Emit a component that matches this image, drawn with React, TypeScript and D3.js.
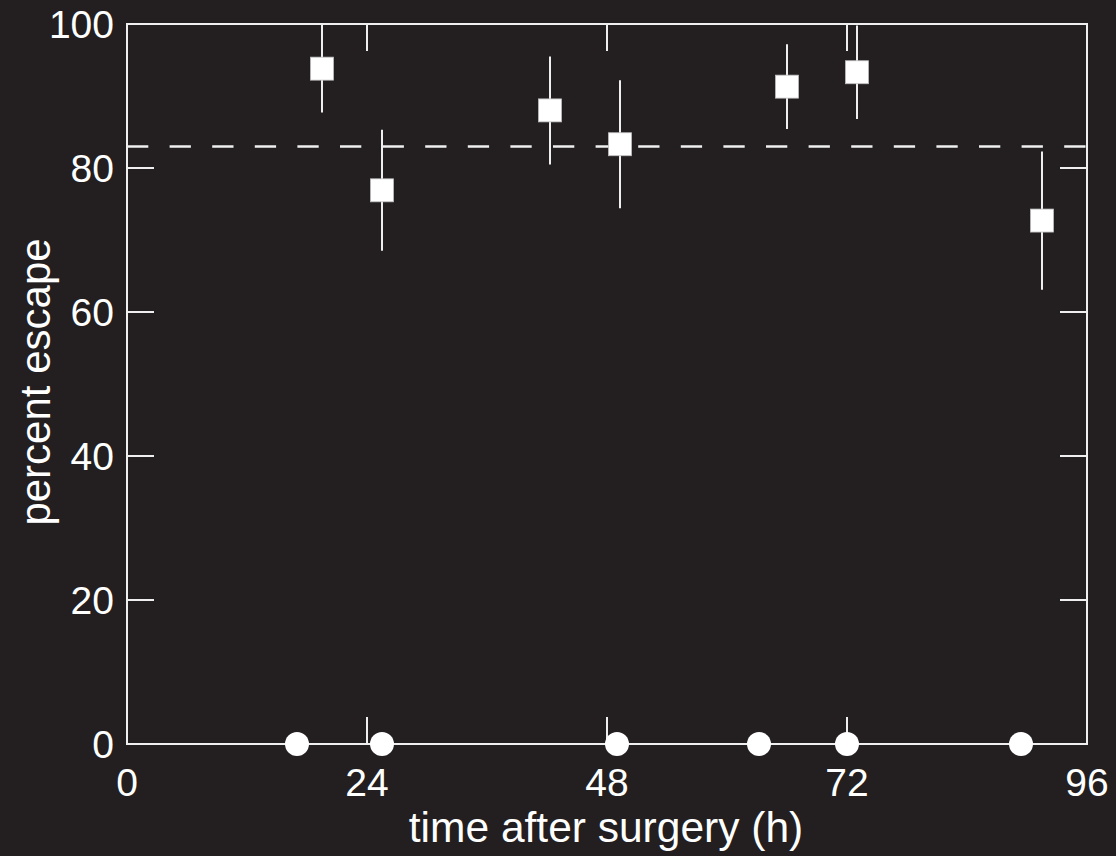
import * as d3 from 'd3';

// percent escape of operated animals (squares) with error bars
const escapeHours = [19.5, 25.5, 42.3, 49.3, 66, 73, 91.5];
const escapeValues = [93.8, 76.9, 88.0, 83.3, 91.3, 93.3, 72.7];
const escapeErrors = [6.1, 8.4, 7.5, 8.9, 5.9, 6.5, 9.6];

// control animals, all at zero
const controlHours = [17, 25.5, 49, 63.2, 72, 89.4];
const controlValues = [0, 0, 0, 0, 0, 0];

const baselineLevel = 83;

const xTicks = [0, 24, 48, 72, 96];
const yTicks = [0, 20, 40, 60, 80, 100];
const innerXTicks = [24, 48, 72];
const innerYTicks = [20, 40, 60, 80];

const W = 1116;
const H = 856;
const BG = '#231f20';
const FG = '#ffffff';
const LINE = '#efefef';
const FONT = '"Liberation Sans", Arial, sans-serif';

export default function App() {
  const x = d3.scaleLinear().domain([0, 96]).range([127, 1087]);
  const y = d3.scaleLinear().domain([0, 100]).range([744, 24]);
  const tickLen = 27;
  const sq = 23;

  return (
    <svg width={W} height={H} style={{ position: 'absolute', left: 0, top: 0 }}>
      <rect width={W} height={H} fill={BG} />

      {/* frame */}
      <rect x={x(0)} y={y(100)} width={x(96) - x(0)} height={y(0) - y(100)}
        fill="none" stroke={LINE} strokeWidth={2} />

      {/* inner ticks on all four sides */}
      {innerXTicks.map(t => (
        <g key={'xt' + t}>
          <line x1={x(t)} x2={x(t)} y1={y(0)} y2={y(0) - tickLen} stroke={LINE} strokeWidth={2} />
          <line x1={x(t)} x2={x(t)} y1={y(100)} y2={y(100) + tickLen} stroke={LINE} strokeWidth={2} />
        </g>
      ))}
      {innerYTicks.map(t => (
        <g key={'yt' + t}>
          <line x1={x(0)} x2={x(0) + tickLen} y1={y(t)} y2={y(t)} stroke={LINE} strokeWidth={2} />
          <line x1={x(96)} x2={x(96) - tickLen} y1={y(t)} y2={y(t)} stroke={LINE} strokeWidth={2} />
        </g>
      ))}

      {/* tick labels */}
      {xTicks.map(t => (
        <text key={'xl' + t} x={x(t)} y={796} textAnchor="middle" fill={FG}
          fontFamily={FONT} fontSize={39}>{t}</text>
      ))}
      {yTicks.map(t => (
        <text key={'yl' + t} x={114} y={y(t) + 14} textAnchor="end" fill={FG}
          fontFamily={FONT} fontSize={39}>{t}</text>
      ))}

      {/* axis titles */}
      <text x={(x(0) + x(96)) / 2 - 1} y={842} textAnchor="middle" fill={FG}
        fontFamily={FONT} fontSize={42.5}>time after surgery (h)</text>
      <text transform={`translate(50, ${382}) rotate(-90)`} textAnchor="middle" fill={FG}
        fontFamily={FONT} fontSize={42}>percent escape</text>

      {/* baseline dashed */}
      <line x1={x(0)} x2={x(96)} y1={y(baselineLevel)} y2={y(baselineLevel)}
        stroke={LINE} strokeWidth={2.5} strokeDasharray="21.3 21.3" />

      {/* error bars */}
      {escapeHours.map((h, i) => (
        <line key={'e' + i} x1={x(h)} x2={x(h)}
          y1={y(escapeValues[i] + escapeErrors[i])} y2={y(escapeValues[i] - escapeErrors[i])}
          stroke={LINE} strokeWidth={2} />
      ))}

      {/* squares */}
      {escapeHours.map((h, i) => (
        <rect key={'s' + i} x={x(h) - sq / 2} y={y(escapeValues[i]) - sq / 2}
          width={sq} height={sq} fill={FG} stroke="#bdbdbd" strokeWidth={0.8} />
      ))}

      {/* control circles */}
      {controlHours.map((h, i) => (
        <circle key={'c' + i} cx={x(h)} cy={y(controlValues[i])} r={12} fill={FG} />
      ))}
    </svg>
  );
}
